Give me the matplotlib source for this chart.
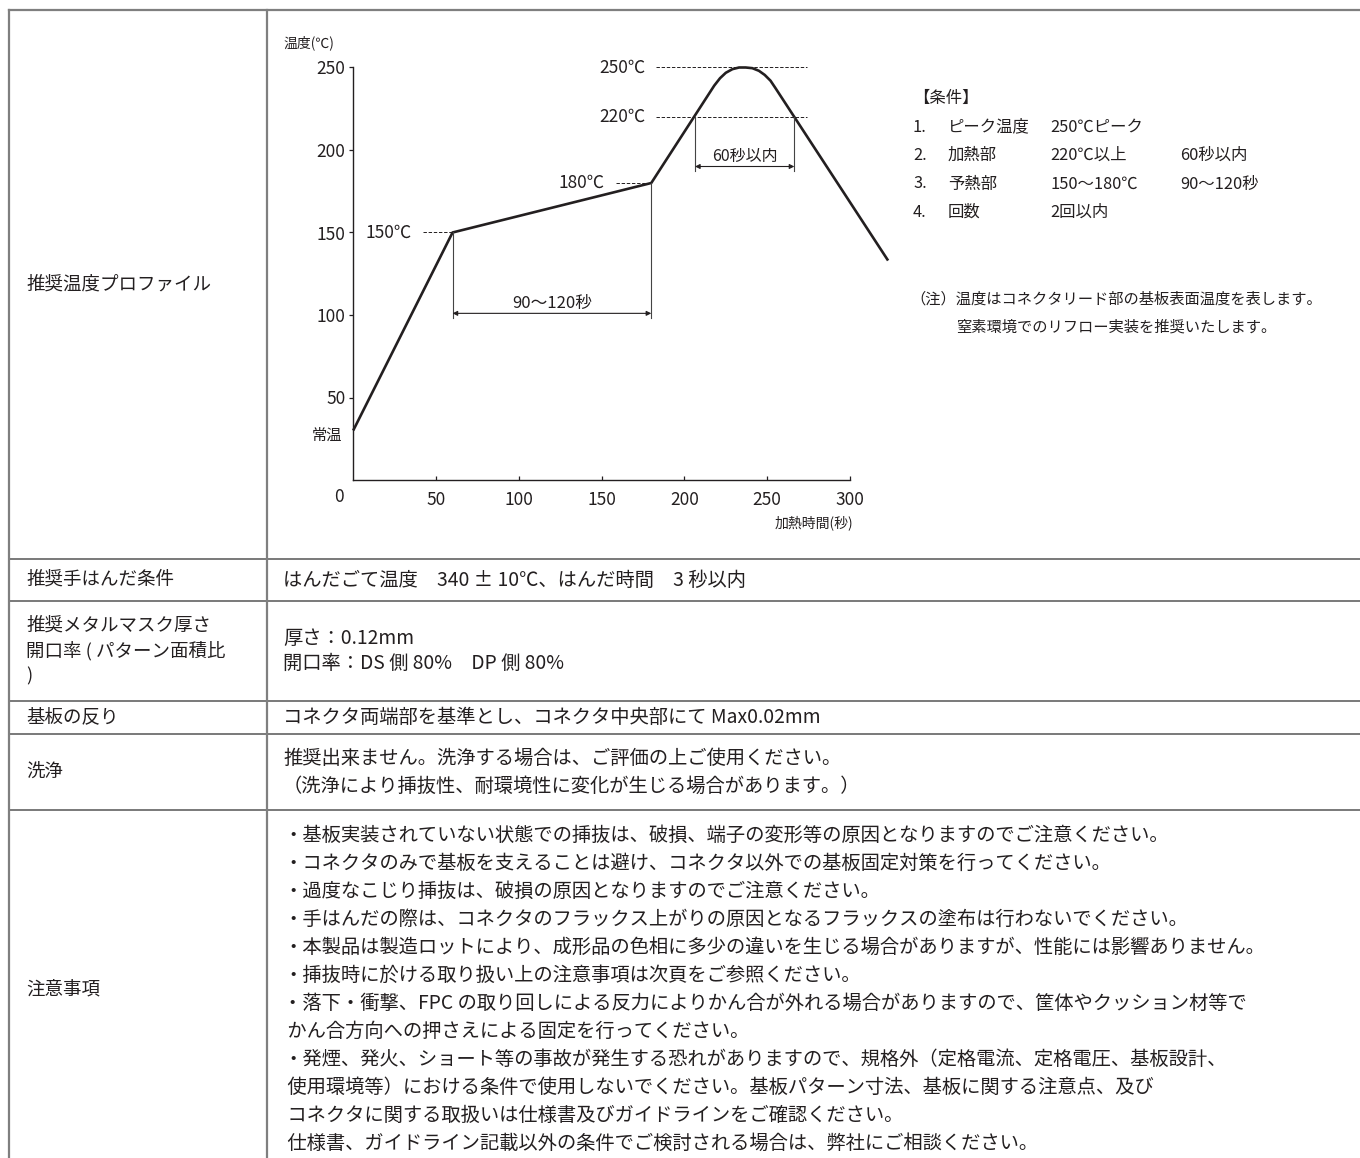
import matplotlib
matplotlib.use('Agg')
import matplotlib.pyplot as plt

plt.rcParams['font.family'] = ['Noto Sans CJK JP', 'DejaVu Sans']
INK = '#231f20'
GRID = '#7f7f7f'

# ---------------- data ----------------
time_s = [0, 60, 180, 218, 221.5, 225, 229, 233, 237, 241, 245, 248.5, 252, 255, 323]
temp_c = [30, 150, 180, 239, 243.5, 246.8, 249, 250, 250, 249.6, 248, 245.5, 242, 237.5, 133]
x_ticks = [50, 100, 150, 200, 250, 300]
y_ticks = [50, 100, 150, 200, 250]
room_temp_label = '常温'
room_temp_level = 27
ref_temps = [150, 180, 220, 250]
ref_labels = ['150℃', '180℃', '220℃', '250℃']
ref_dash_from = [42, 158.7, 183, 183]
ref_dash_to = [60, 180, 274, 274]
preheat_span = [60, 180]
preheat_top = [150, 180]
preheat_label = '90～120秒'
reflow_span = [206.4, 266.4]
reflow_label = '60秒以内'

cond_title = '【条件】'
cond_num = ['1.', '2.', '3.', '4.']
cond_item = ['ピーク温度', '加熱部', '予熱部', '回数']
cond_val = ['250℃ピーク', '220℃以上', '150～180℃', '2回以内']
cond_val2 = ['', '60秒以内', '90～120秒', '']
note_lines = ['（注）温度はコネクタリード部の基板表面温度を表します。',
              '窒素環境でのリフロー実装を推奨いたします。']

row_labels = [
    ['推奨温度プロファイル'],
    ['推奨手はんだ条件'],
    ['推奨メタルマスク厚さ', '開口率 ( パターン面積比', ')'],
    ['基板の反り'],
    ['洗浄'],
    ['注意事項'],
]
row_contents = [
    [],
    ['はんだごて温度　340 ± 10℃、はんだ時間　3 秒以内'],
    ['厚さ：0.12mm', '開口率：DS 側 80%　DP 側 80%'],
    ['コネクタ両端部を基準とし、コネクタ中央部にて Max0.02mm'],
    ['推奨出来ません。洗浄する場合は、ご評価の上ご使用ください。',
     '（洗浄により挿抜性、耐環境性に変化が生じる場合があります。）'],
    ['・基板実装されていない状態での挿抜は、破損、端子の変形等の原因となりますのでご注意ください。',
     '・コネクタのみで基板を支えることは避け、コネクタ以外での基板固定対策を行ってください。',
     '・過度なこじり挿抜は、破損の原因となりますのでご注意ください。',
     '・手はんだの際は、コネクタのフラックス上がりの原因となるフラックスの塗布は行わないでください。',
     '・本製品は製造ロットにより、成形品の色相に多少の違いを生じる場合がありますが、性能には影響ありません。',
     '・挿抜時に於ける取り扱い上の注意事項は次頁をご参照ください。',
     '・落下・衝撃、FPC の取り回しによる反力によりかん合が外れる場合がありますので、筐体やクッション材等で',
     ' かん合方向への押さえによる固定を行ってください。',
     '・発煙、発火、ショート等の事故が発生する恐れがありますので、規格外（定格電流、定格電圧、基板設計、',
     ' 使用環境等）における条件で使用しないでください。基板パターン寸法、基板に関する注意点、及び',
     ' コネクタに関する取扱いは仕様書及びガイドラインをご確認ください。',
     ' 仕様書、ガイドライン記載以外の条件でご検討される場合は、弊社にご相談ください。'],
]

# ---------------- layout ----------------
W, H = 1360, 1158
fig = plt.figure(figsize=(W / 100, H / 100), dpi=100)
fig.patch.set_facecolor('white')

page = fig.add_axes([0, 0, 1, 1])
page.set_xlim(0, W)
page.set_ylim(H, 0)
page.axis('off')

row_edges = [10, 559, 601, 701, 734, 810, 1168]
x_left, x_col = 9, 267
lab_x, cont_x = 26, 283
lfs, cfs_tab = 13.3, 13.9

page.plot([x_left, W], [row_edges[0]] * 2, color=GRID, lw=1.6)
for e in row_edges[1:-1]:
    page.plot([x_left, W], [e, e], color='#555555', lw=1.1)
page.plot([x_left, x_left], [row_edges[0], H], color=GRID, lw=1.6)
page.plot([x_col, x_col], [row_edges[0], H], color=GRID, lw=1.6)

label_sp = [25, 25, 25, 25, 28, 28]
content_sp = [28, 28, 25.5, 28, 28, 28]
for i in range(len(row_labels)):
    c = (row_edges[i] + row_edges[i + 1]) / 2
    labs = row_labels[i]
    for j, t in enumerate(labs):
        y = c + (j - (len(labs) - 1) / 2) * label_sp[i]
        page.text(lab_x, y, t, fontsize=lfs, color=INK, ha='left', va='center')
    conts = row_contents[i]
    for j, t in enumerate(conts):
        y = c + (j - (len(conts) - 1) / 2) * content_sp[i]
        page.text(cont_x, y, t, fontsize=cfs_tab, color=INK, ha='left', va='center')

# conditions block
cfs = 11.8
page.text(913, 98, cond_title, fontsize=cfs, color=INK, ha='left', va='center')
for k in range(len(cond_num)):
    y = 127 + k * 28.5
    page.text(913, y, cond_num[k], fontsize=cfs, color=INK, ha='left', va='center')
    page.text(948, y, cond_item[k], fontsize=cfs, color=INK, ha='left', va='center')
    page.text(1050, y, cond_val[k], fontsize=cfs, color=INK, ha='left', va='center')
    page.text(1180, y, cond_val2[k], fontsize=cfs, color=INK, ha='left', va='center')
for k, t in enumerate(note_lines):
    page.text(1116, 299 + k * 28, t, fontsize=11, color=INK, ha='center', va='center')

# ---------------- chart ----------------
x0px, y0px = 353.2, 480.0
sx, sy = 1.656, 1.65
xmax, ymax = 330, 260
ax = fig.add_axes([x0px / W, (H - y0px) / H, xmax * sx / W, ymax * sy / H])
ax.set_facecolor('none')
ax.set_xlim(0, xmax)
ax.set_ylim(0, ymax)
for s in ['top', 'right']:
    ax.spines[s].set_visible(False)
for s in ['left', 'bottom']:
    ax.spines[s].set_color(INK)
    ax.spines[s].set_linewidth(1.0)
ax.spines['left'].set_bounds(0, 250)
ax.spines['bottom'].set_bounds(0, 300)

ax.set_xticks(x_ticks)
ax.set_yticks(y_ticks)
ax.tick_params(axis='x', direction='in', length=3, width=0.9, color=INK,
               labelsize=12.5, labelcolor=INK, pad=8)
ax.tick_params(axis='y', direction='out', length=3, width=0.9, color=INK,
               labelsize=12.5, labelcolor=INK, pad=2.5)

ax.annotate('0', xy=(0, 0), xytext=(-14, -17), textcoords='offset pixels',
            ha='center', va='center', fontsize=12.5, color=INK, annotation_clip=False)
ax.annotate('温度(℃)', xy=(0, 250), xytext=(-70, 25), textcoords='offset pixels',
            ha='left', va='center', fontsize=10, color=INK, annotation_clip=False)
ax.annotate('加熱時間(秒)', xy=(300, 0), xytext=(-36, -43), textcoords='offset pixels',
            ha='center', va='center', fontsize=10, color=INK, annotation_clip=False)
ax.annotate(room_temp_label, xy=(0, room_temp_level), xytext=(-11, 0),
            textcoords='offset pixels', ha='right', va='center', fontsize=11,
            color=INK, annotation_clip=False)

# reference dashed levels
for T, lab, a, b in zip(ref_temps, ref_labels, ref_dash_from, ref_dash_to):
    ax.plot([a, b], [T, T], color=INK, lw=0.7, ls=(0, (3.5, 1.8)))
    ax.annotate(lab, xy=(a, T), xytext=(-11, 0), textcoords='offset pixels',
                ha='right', va='center', fontsize=12.5, color=INK)

# profile curve
ax.plot(time_s, temp_c, color=INK, lw=1.9, solid_joinstyle='round',
        solid_capstyle='butt', clip_on=False)

arrow_kw = dict(arrowstyle='<|-|>', color=INK, lw=0.8, mutation_scale=7,
                shrinkA=0, shrinkB=0)

# preheat dimension (90~120秒)
for t, top in zip(preheat_span, preheat_top):
    ax.plot([t, t], [top, 98], color='#444444', lw=0.8)
ax.annotate('', xy=(preheat_span[1], 101), xytext=(preheat_span[0], 101),
            arrowprops=arrow_kw)
ax.text(sum(preheat_span) / 2, 107, preheat_label, ha='center', va='center',
        fontsize=12, color=INK)

# reflow dimension (60秒以内)
for t in reflow_span:
    ax.plot([t, t], [220, 187], color='#444444', lw=0.8)
ax.annotate('', xy=(reflow_span[1], 190), xytext=(reflow_span[0], 190),
            arrowprops=arrow_kw)
ax.text(sum(reflow_span) / 2, 196, reflow_label, ha='center', va='center',
        fontsize=11.5, color=INK)

fig.savefig('out.png', dpi=100, facecolor='white')
